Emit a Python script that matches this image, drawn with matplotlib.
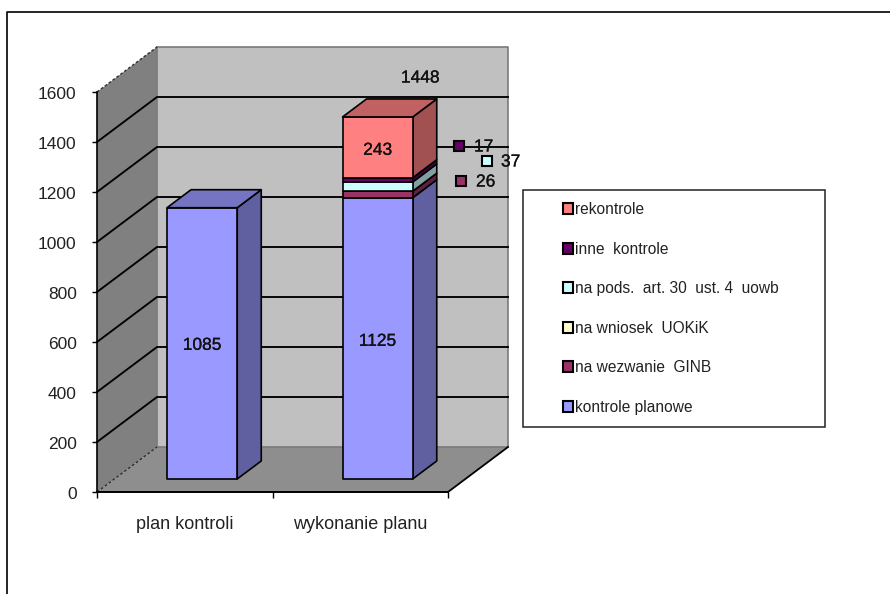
import matplotlib
matplotlib.use("Agg")
import matplotlib.pyplot as plt
import matplotlib.patheffects as pe
from matplotlib.patches import Patch, Rectangle
from matplotlib.lines import Line2D
from matplotlib.transforms import ScaledTranslation

plt.rcParams['font.family'] = ['Liberation Sans', 'DejaVu Sans']

categories = ['plan kontroli', 'wykonanie planu']
yTicks = [0, 200, 400, 600, 800, 1000, 1200, 1400, 1600]

seriesNames = ['kontrole planowe', 'na wezwanie  GINB', 'na wniosek  UOKiK',
               'na pods.  art. 30  ust. 4  uowb', 'inne  kontrole', 'rekontrole']
seriesColors = ['#9999FF', '#993366', '#FFFFCC', '#CCFFFF', '#660066', '#FF8080']
planValues = [1085, 0, 0, 0, 0, 0]
doneValues = [1125, 26, 0, 37, 17, 243]
total = 1448

W, H = 890, 594
fig = plt.figure(figsize=(W / 100, H / 100), dpi=100)


def pxBox(left, top, right, bottom):
    return [left / W, 1 - bottom / H, (right - left) / W, (bottom - top) / H]


# front plane of the fake 3d box
ax = fig.add_axes(pxBox(97, 92, 448, 492))
ax.set_xlim(0, 2)
ax.set_ylim(0, 1600)
ax.patch.set_alpha(0)

# one unit of depth moves the point this much
depthX = 60 / 175.5
depthY = 180
barWidth = 0.4
d0, d1 = 0.29, 0.69
heavy = [pe.withStroke(linewidth=0.2, foreground='#111111')]


def p(x, y, d):
    return x + d * depthX, y + d * depthY


def face(points, color, lw=0.0, edge='none', z=2):
    xs = [a[0] for a in points]
    ys = [a[1] for a in points]
    ax.fill(xs, ys, facecolor=color, edgecolor=edge, linewidth=lw, clip_on=False, zorder=z, joinstyle='round')


def shade(color, k):
    c = matplotlib.colors.to_rgb(color)
    return tuple(v * k for v in c)


# walls and floor
face([p(0, 0, 0), p(0, 1600, 0), p(0, 1600, 1), p(0, 0, 1)], '#808080', z=1)
face([p(0, 0, 1), p(0, 1600, 1), p(2, 1600, 1), p(2, 0, 1)], '#C0C0C0', z=1)
face([p(0, 0, 0), p(0, 0, 1), p(2, 0, 1), p(2, 0, 0)], '#8E8E8E', z=1)

# wall edges
ax.plot(*zip(p(0, 1600, 1), p(2, 1600, 1), p(2, 0, 1), p(0, 0, 1), p(0, 1600, 1)), color='#7A7A7A', lw=1.2, clip_on=False, zorder=1.1)
ax.plot(*zip(p(0, 1600, 0), p(0, 1600, 1)), color='#303030', lw=1, ls=(0, (2, 1.5)), clip_on=False, zorder=1.2)
ax.plot(*zip(p(0, 0, 0), p(0, 0, 1)), color='#303030', lw=1, ls=(0, (2, 1.5)), clip_on=False, zorder=1.2)
ax.plot(*zip(p(2, 0, 0), p(2, 0, 1)), color='black', lw=1.3, clip_on=False, zorder=1.2)

# gridlines, side wall then back wall
for t in yTicks[1:-1]:
    ax.plot(*zip(p(0, t, 0), p(0, t, 1), p(2, t, 1)), color='black', lw=1.35, clip_on=False, zorder=1.3)

# bars
for i, values in enumerate([planValues, doneValues]):
    x0 = i + 0.5 - barWidth / 2
    x1 = i + 0.5 + barWidth / 2
    bottom = 0
    z = 3
    for val, col in zip(values, seriesColors):
        if val == 0:
            continue
        top = bottom + val
        face([p(x1, bottom, d0), p(x1, top, d0), p(x1, top, d1), p(x1, bottom, d1)], shade(col, 0.63), 1.2, 'black', z)
        face([p(x0, bottom, d0), p(x1, bottom, d0), p(x1, top, d0), p(x0, top, d0)], col, 1.2, 'black', z)
        last = top
        lastCol = col
        bottom = top
        z += 0.1
    face([p(x0, last, d0), p(x1, last, d0), p(x1, last, d1), p(x0, last, d1)], shade(lastCol, 0.76), 1.2, 'black', z)

# labels inside the bars
labelStyle = dict(ha='center', va='center', fontsize=12.5, color='#111111', zorder=6, path_effects=heavy)
ax.text(*p(0.5, 1085 / 2 - 8, d0), str(planValues[0]), **labelStyle)
ax.text(*p(1.5, 1125 / 2 - 12, d0), str(doneValues[0]), **labelStyle)
ax.text(*p(1.5, 1205 + 243 / 2 - 12, d0), str(doneValues[5]), **labelStyle)
ax.text(1.842, 1656, str(total), **labelStyle)

# small labels with their keys next to the bar, placed in figure pixels
sideLabels = [(doneValues[4], seriesColors[4], 459, 146, 474),
              (doneValues[3], seriesColors[3], 487, 161, 501),
              (doneValues[1], seriesColors[1], 461, 181, 476)]
for val, col, kx, ky, tx in sideLabels:
    fig.add_artist(Rectangle((kx / W - 5 / W, 1 - ky / H - 5 / H), 10 / W, 10 / H, transform=fig.transFigure,
                             facecolor=col, edgecolor='black', linewidth=1.5, zorder=7))
    fig.text(tx / W, 1 - (ky + 1) / H, str(val), ha='left', va='center', fontsize=12.5, color='#111111', zorder=7, path_effects=heavy)

# axes
for s in ['top', 'right']:
    ax.spines[s].set_visible(False)
ax.spines['left'].set_linewidth(1.2)
ax.spines['bottom'].set_linewidth(1.4)
ax.spines['left'].set_zorder(2)
ax.spines['bottom'].set_zorder(2)
ax.set_yticks(yTicks)
ax.tick_params(axis='y', length=3.6, width=1, pad=11, labelsize=12.5, labelcolor='#222222')
for lab in ax.get_yticklabels():
    lab.set_transform(lab.get_transform() + ScaledTranslation(0, -1 / 100, fig.dpi_scale_trans))
ax.set_xticks([0, 1, 2])
ax.set_xticklabels([])
ax.tick_params(axis='x', which='major', length=4.5, width=1)
ax.set_xticks([0.5, 1.5], minor=True)
ax.set_xticklabels(categories, minor=True)
ax.tick_params(axis='x', which='minor', length=0, pad=17, labelsize=13, labelcolor='#222222')

# legend box and legend
fig.add_artist(Rectangle((523 / W, 1 - 427 / H), 302 / W, 237 / H, transform=fig.transFigure,
                         facecolor='white', edgecolor='#222222', linewidth=1.1, zorder=4))
handles = [Patch(facecolor=c, edgecolor='black', linewidth=1.5) for c in seriesColors]
leg = fig.legend(handles[::-1], seriesNames[::-1], loc='center left', bbox_to_anchor=(563 / W, 1 - 308.5 / H),
                 frameon=False, fontsize=11.2, labelspacing=1.58, handlelength=0.62, handleheight=0.7,
                 handletextpad=0.18, borderpad=0, borderaxespad=0, labelcolor='#222222')
leg.set_zorder(5)

# outer frame, only top and left show
fig.add_artist(Line2D([7 / W, 7 / W, 1], [0, 1 - 12 / H, 1 - 12 / H], transform=fig.transFigure, color='black', lw=1.2))

fig.savefig('out.png', dpi=100)
